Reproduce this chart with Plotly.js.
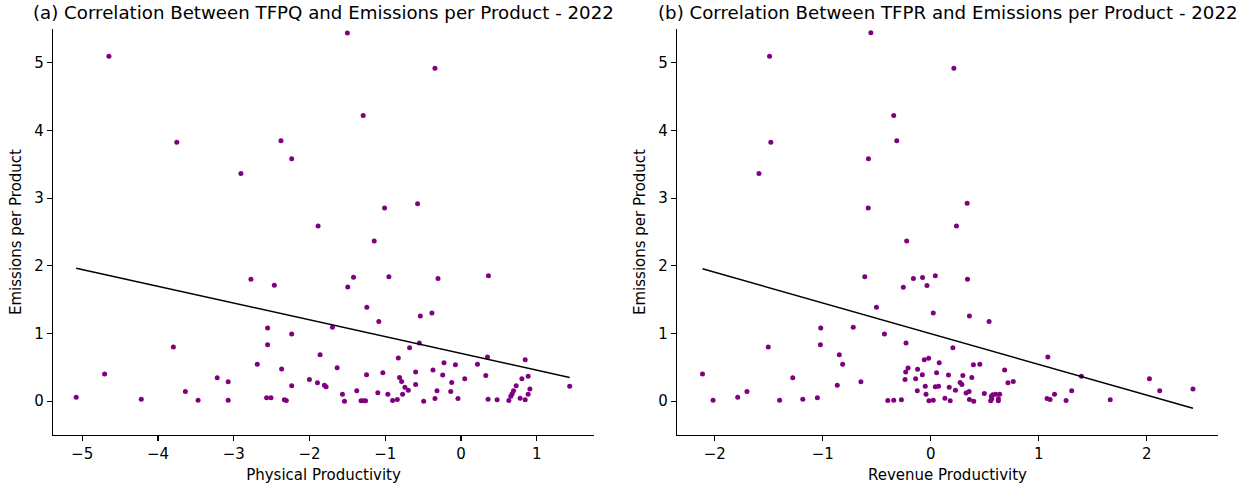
<!DOCTYPE html>
<html>
<head>
<meta charset="utf-8">
<script src="https://cdn.plot.ly/plotly-3.0.1.min.js"></script>
<style>html,body{margin:0;padding:0;background:#fff;}#chart{width:1250px;height:485px;}</style>
</head>
<body>
<div id="chart"></div>
<script>
// Panel (a): Physical productivity (TFPQ) vs emissions per product
const tfpqX = [-4.647,-1.50,-3.751,-2.376,-2.235,-2.905,-1.886,-0.344,-1.291,-1.009,-0.573,
  -5.079,-4.704,-4.22,-3.796,-3.638,-3.47,-3.218,-3.073,-3.073,-2.773,-2.689,-2.553,-2.553,-2.566,-2.508,
  -2.464,-2.368,-2.332,-2.306,-2.235,-2.235,-2.001,-1.895,-1.860,-1.803,-1.781,-1.697,-1.635,-1.565,-1.538,
  -1.495,-1.146,-1.419,-0.952,-0.304,0.362,-1.243,-1.085,-0.537,-0.384,-0.679,-0.550,-1.376,-1.32,-1.29,-1.26,
  -1.247,-1.098,-1.032,-0.966,-0.903,-0.841,-0.828,-0.811,-0.784,-0.741,-0.771,-0.696,-0.599,-0.599,-0.493,
  -0.370,-0.344,-0.317,-0.242,-0.225,-0.136,-0.123,-0.074,-0.040,0.049,0.217,0.327,0.349,0.357,0.476,0.631,
  0.657,0.675,0.693,0.728,0.780,0.803,0.847,0.847,0.886,0.886,0.909,1.434];
const tfpqY = [5.096,5.44,3.828,3.847,3.581,3.363,2.588,4.919,4.222,2.855,2.919,
  0.059,0.40,0.03,0.80,0.144,0.015,0.347,0.287,0.015,1.803,0.544,1.081,0.835,0.05,0.05,
  1.714,0.474,0.02,0.01,0.993,0.228,0.321,0.272,0.687,0.237,0.213,1.092,0.495,0.104,0.0,
  1.689,2.366,1.833,1.837,1.813,1.852,1.388,1.176,1.259,1.304,0.791,0.859,0.154,0.006,0.006,0.006,
  0.391,0.124,0.42,0.104,0.01,0.025,0.637,0.351,0.292,0.207,0.104,0.163,0.43,0.247,0.0,
  0.459,0.04,0.154,0.385,0.569,0.144,0.277,0.539,0.04,0.332,0.544,0.381,0.652,0.03,0.02,0.01,
  0.074,0.11,0.154,0.228,0.044,0.332,0.02,0.613,0.37,0.104,0.178,0.222];

// Panel (b): Revenue productivity (TFPR) vs emissions per product
const tfprX = [-1.493,-0.555,0.214,-0.343,-1.481,-0.315,-0.577,-1.591,-0.579,0.337,0.238,
  -2.114,-2.016,-1.788,-1.702,-1.505,-1.400,-1.278,-1.185,-1.050,-1.019,-1.022,-0.847,-0.866,-0.816,-0.718,
  -0.647,-0.611,-0.503,-0.429,-0.398,-0.343,-0.272,-0.254,-0.223,-0.229,-0.238,-0.232,-0.21,-0.161,-0.140,
  -0.125,-0.122,-0.078,-0.076,-0.035,-0.060,-0.020,0.023,0.042,0.078,-0.051,-0.044,-0.017,0.023,0.054,0.042,
  0.072,0.131,0.164,0.171,0.180,0.205,0.229,0.272,0.288,0.297,0.340,0.358,0.327,0.355,0.358,0.380,0.540,
  1.084,0.395,0.454,0.684,0.715,0.764,1.395,2.025,2.12,2.428,0.496,0.561,0.574,0.601,0.638,0.555,0.565,
  0.626,0.626,0.398,1.077,1.105,1.146,1.253,1.305,1.662];
const tfprY = [5.096,5.443,4.919,4.222,3.828,3.847,3.581,3.363,2.855,2.924,2.588,
  0.40,0.015,0.059,0.144,0.80,0.015,0.347,0.03,0.05,1.081,0.835,0.687,0.237,0.544,1.092,
  0.287,1.837,1.388,0.993,0.01,0.015,0.02,1.684,2.366,0.859,0.321,0.43,0.489,1.813,0.332,
  0.154,0.47,0.391,1.828,1.709,0.613,0.633,1.304,1.852,0.569,0.222,0.104,0.006,0.015,0.42,0.213,
  0.222,0.044,0.385,0.207,0.006,0.791,0.163,0.277,0.247,0.381,1.803,1.259,0.119,0.144,0.025,0.351,1.176,
  0.652,0.539,0.544,0.459,0.272,0.292,0.37,0.332,0.154,0.178,0.114,0.074,0.095,0.104,0.104,0.006,0.036,
  0.006,0.036,0.0,0.04,0.025,0.104,0.01,0.154,0.02];

// Fitted regression lines (slope, intercept)
const fitA = {slope: -0.248, intercept: 0.706};
const fitB = {slope: -0.4535, intercept: 0.997};

const titles = ["(a) Correlation Between TFPQ and Emissions per Product - 2022",
                "(b) Correlation Between TFPR and Emissions per Product - 2022"];
const xLabels = ["Physical Productivity", "Revenue Productivity"];
const yLabel = "Emissions per Product";

function fitLine(xs, fit){
  const lo = Math.min(...xs), hi = Math.max(...xs);
  return {x:[lo,hi], y:[fit.intercept+fit.slope*lo, fit.intercept+fit.slope*hi]};
}
const lA = fitLine(tfpqX, fitA), lB = fitLine(tfprX, fitB);
const purple = '#800080';
const traces = [
  {x:tfpqX, y:tfpqY, type:'scatter', mode:'markers', marker:{color:purple, size:5}, xaxis:'x', yaxis:'y', hoverinfo:'skip'},
  {x:lA.x, y:lA.y, type:'scatter', mode:'lines', line:{color:'#000', width:1.5}, xaxis:'x', yaxis:'y'},
  {x:tfprX, y:tfprY, type:'scatter', mode:'markers', marker:{color:purple, size:5}, xaxis:'x2', yaxis:'y2', hoverinfo:'skip'},
  {x:lB.x, y:lB.y, type:'scatter', mode:'lines', line:{color:'#000', width:1.5}, xaxis:'x2', yaxis:'y2'}
];
const font = {family:'DejaVu Sans', size:15, color:'#000'};
function xax(domain, range, dtick, anchor, label){
  return {domain:domain, range:range, dtick:dtick, tick0:0, anchor:anchor, showgrid:false, zeroline:false,
    showline:true, linecolor:'#000', linewidth:1.2, ticks:'outside', ticklen:5, tickwidth:1.2, tickcolor:'#000',
    tickfont:font, title:{text:label, font:font, standoff:7}, mirror:false};
}
function yax(anchor){
  return {domain:[0,1], range:[-0.5,5.5], dtick:1, tick0:0, anchor:anchor, showgrid:false, zeroline:false,
    showline:true, linecolor:'#000', linewidth:1.2, ticks:'outside', ticklen:5, tickwidth:1.2, tickcolor:'#000',
    tickfont:font, title:{text:yLabel, font:font, standoff:9}};
}
const dA = [53/1250, 594/1250], dB = [677/1250, 1218/1250];
const layout = {
  width:1250, height:485, showlegend:false,
  paper_bgcolor:'#fff', plot_bgcolor:'#fff', font:font,
  margin:{l:0, r:0, t:29, b:50},
  xaxis: xax(dA, [-5.385, 1.755], 1, 'y', xLabels[0]),
  yaxis: yax('x'),
  xaxis2: xax(dB, [-2.35, 2.66], 1, 'y2', xLabels[1]),
  yaxis2: yax('x2'),
  annotations:[
    {text:titles[0], xref:'paper', yref:'paper', x:(dA[0]+dA[1])/2, y:1, yshift:4, xanchor:'center', yanchor:'bottom', showarrow:false, font:{family:'DejaVu Sans', size:18.2, color:'#000'}},
    {text:titles[1], xref:'paper', yref:'paper', x:(dB[0]+dB[1])/2, y:1, yshift:4, xanchor:'center', yanchor:'bottom', showarrow:false, font:{family:'DejaVu Sans', size:18.2, color:'#000'}}
  ]
};
Plotly.newPlot('chart', traces, layout, {displayModeBar:false, staticPlot:true});
</script>
</body>
</html>
